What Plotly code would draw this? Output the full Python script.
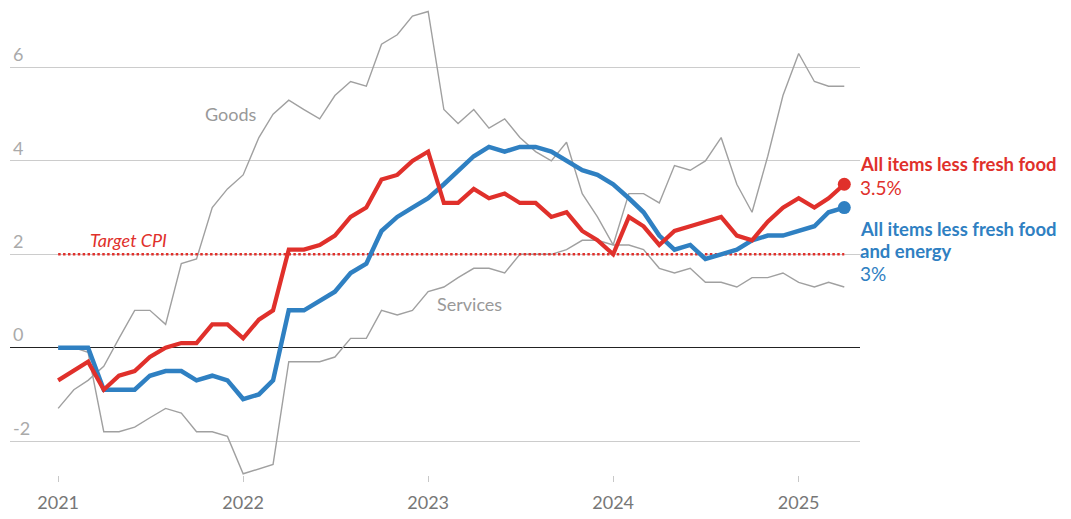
import plotly.graph_objects as go
import pandas as pd

# Monthly dates, Jan 2021 .. Apr 2025
months = pd.date_range("2021-01-01", "2025-04-01", freq="MS").strftime("%Y-%m-%d").tolist()

# All items less fresh food (y/y %)
core = [-0.7, -0.5, -0.3, -0.9, -0.6, -0.5, -0.2, 0.0, 0.1, 0.1, 0.5, 0.5,
        0.2, 0.6, 0.8, 2.1, 2.1, 2.2, 2.4, 2.8, 3.0, 3.6, 3.7, 4.0,
        4.2, 3.1, 3.1, 3.4, 3.2, 3.3, 3.1, 3.1, 2.8, 2.9, 2.5, 2.3,
        2.0, 2.8, 2.6, 2.2, 2.5, 2.6, 2.7, 2.8, 2.4, 2.3, 2.7, 3.0,
        3.2, 3.0, 3.2, 3.5]

# All items less fresh food and energy
core_core = [0.0, 0.0, 0.0, -0.9, -0.9, -0.9, -0.6, -0.5, -0.5, -0.7, -0.6, -0.7,
             -1.1, -1.0, -0.7, 0.8, 0.8, 1.0, 1.2, 1.6, 1.8, 2.5, 2.8, 3.0,
             3.2, 3.5, 3.8, 4.1, 4.3, 4.2, 4.3, 4.3, 4.2, 4.0, 3.8, 3.7,
             3.5, 3.2, 2.9, 2.4, 2.1, 2.2, 1.9, 2.0, 2.1, 2.3, 2.4, 2.4,
             2.5, 2.6, 2.9, 3.0]

# Goods
goods = [-1.3, -0.9, -0.7, -0.4, 0.2, 0.8, 0.8, 0.5, 1.8, 1.9, 3.0, 3.4,
         3.7, 4.5, 5.0, 5.3, 5.1, 4.9, 5.4, 5.7, 5.6, 6.5, 6.7, 7.1,
         7.2, 5.1, 4.8, 5.1, 4.7, 4.9, 4.5, 4.2, 4.0, 4.4, 3.3, 2.8,
         2.2, 3.3, 3.3, 3.1, 3.9, 3.8, 4.0, 4.5, 3.5, 2.9, 4.1, 5.4,
         6.3, 5.7, 5.6, 5.6]

# Services
services = [0.0, 0.0, -0.1, -1.8, -1.8, -1.7, -1.5, -1.3, -1.4, -1.8, -1.8, -1.9,
            -2.7, -2.6, -2.5, -0.3, -0.3, -0.3, -0.2, 0.2, 0.2, 0.8, 0.7, 0.8,
            1.2, 1.3, 1.5, 1.7, 1.7, 1.6, 2.0, 2.0, 2.0, 2.1, 2.3, 2.3,
            2.2, 2.2, 2.1, 1.7, 1.6, 1.7, 1.4, 1.4, 1.3, 1.5, 1.5, 1.6,
            1.4, 1.3, 1.4, 1.3]

target_cpi = 2.0

year_ticks = ["2021-01-01", "2022-01-01", "2023-01-01", "2024-01-01", "2025-01-01"]
year_labels = ["2021", "2022", "2023", "2024", "2025"]
y_ticks = [-2, 0, 2, 4, 6]
y_labels = ["-2", "0", "2", "4", "6"]

RED = "#e0302b"
BLUE = "#2f80c2"
GRAY = "#a0a0a0"
FONT = "Lato"

fig = go.Figure()

fig.add_trace(go.Scatter(x=months, y=goods, mode="lines",
                         line=dict(color=GRAY, width=1.4), hoverinfo="skip"))
fig.add_trace(go.Scatter(x=months, y=services, mode="lines",
                         line=dict(color=GRAY, width=1.4), hoverinfo="skip"))
fig.add_trace(go.Scatter(x=[months[0], months[-1]], y=[target_cpi, target_cpi], mode="lines",
                         line=dict(color=RED, width=2.5, dash="2.5px,2.4px"), hoverinfo="skip"))
fig.add_trace(go.Scatter(x=months, y=core_core, mode="lines",
                         line=dict(color=BLUE, width=4.5), hoverinfo="skip"))
fig.add_trace(go.Scatter(x=months, y=core, mode="lines",
                         line=dict(color=RED, width=4.2), hoverinfo="skip"))
fig.add_trace(go.Scatter(x=[months[-1]], y=[core_core[-1]], mode="markers",
                         marker=dict(color=BLUE, size=13), hoverinfo="skip", cliponaxis=False))
fig.add_trace(go.Scatter(x=[months[-1]], y=[core[-1]], mode="markers",
                         marker=dict(color=RED, size=13), hoverinfo="skip", cliponaxis=False))

ann = []
ann.append(dict(x="2021-12-08", y=5.0, xref="x", yref="y", text="Goods", showarrow=False,
                font=dict(family=FONT, size=18, color="#999999")))
ann.append(dict(x="2023-03-24", y=0.93, xref="x", yref="y", text="Services", showarrow=False,
                font=dict(family=FONT, size=18, color="#999999")))
ann.append(dict(x="2021-05-19", y=2.31, xref="x", yref="y", text="<i>Target CPI</i>", showarrow=False,
                font=dict(family=FONT, size=18, color=RED)))
ann.append(dict(x=1, y=3.93, xref="paper", yref="y", xanchor="left", xshift=-2,
                text="<b>All items less fresh food</b>",
                showarrow=False, font=dict(family=FONT, size=18.5, color=RED)))
ann.append(dict(x=1, y=3.44, xref="paper", yref="y", xanchor="left", xshift=-2, text="3.5%",
                showarrow=False, font=dict(family=FONT, size=19, color=RED)))
ann.append(dict(x=1, y=2.54, xref="paper", yref="y", xanchor="left", xshift=-2,
                text="<b>All items less fresh food</b>",
                showarrow=False, font=dict(family=FONT, size=18.5, color=BLUE)))
ann.append(dict(x=1, y=2.07, xref="paper", yref="y", xanchor="left", xshift=-2, text="<b>and energy</b>",
                showarrow=False, font=dict(family=FONT, size=18.5, color=BLUE)))
ann.append(dict(x=1, y=1.58, xref="paper", yref="y", xanchor="left", xshift=-2, text="3%",
                showarrow=False, font=dict(family=FONT, size=19, color=BLUE)))

fig.update_layout(
    width=1071, height=519,
    margin=dict(l=2, r=219, t=0, b=52),
    paper_bgcolor="white", plot_bgcolor="white",
    showlegend=False,
    annotations=ann,
    xaxis=dict(range=["2020-09-28", "2025-05-02"], tickvals=year_ticks, ticktext=year_labels,
               showgrid=False, zeroline=False, showline=False,
               ticks="outside", ticklen=6, tickcolor="#c8c8c8", tickwidth=1.2,
               ticklabelstandoff=5,
               tickfont=dict(family=FONT, size=18, color="#777777")),
    yaxis=dict(range=[-2.726, 7.274], tickvals=y_ticks, ticktext=y_labels,
               ticklabelposition="inside top", showgrid=True, gridcolor="#cccccc", gridwidth=1.3,
               zeroline=True, zerolinecolor="#222222", zerolinewidth=1.2,
               showline=False, ticks="",
               tickfont=dict(family=FONT, size=18, color="#aaaaaa")),
)

fig.write_html("out.html")
